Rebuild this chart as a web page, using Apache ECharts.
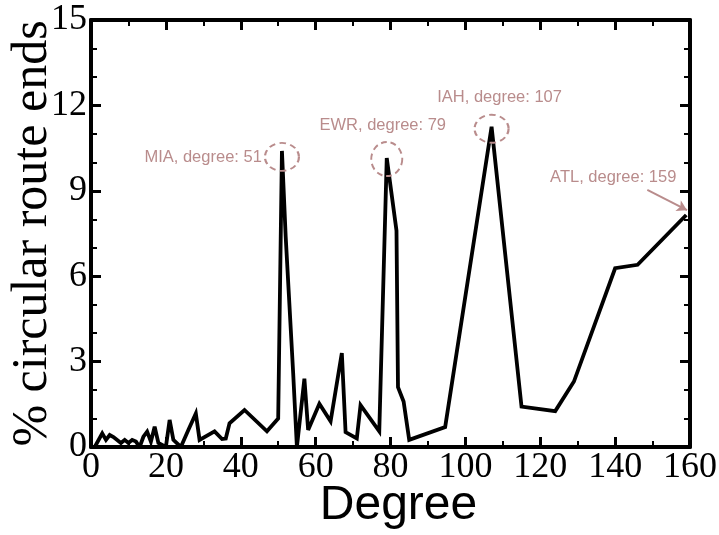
<!DOCTYPE html>
<html>
<head>
<meta charset="utf-8">
<script src="https://cdn.jsdelivr.net/npm/echarts@6/dist/echarts.min.js"></script>
<style>
  html, body { margin: 0; padding: 0; background: #fff; }
  #chart { width: 719px; height: 535px; }
</style>
</head>
<body>
<div id="chart"></div>
<script>
// Share of circular route ends per airport degree
const degrees = [1, 3, 4, 5, 6, 8, 9, 10, 11, 12, 13, 14, 15, 16, 17, 18, 20, 21, 22, 24,
  26, 28, 29, 33, 35, 36, 37, 41, 47, 50, 51, 52, 54, 55, 57, 58, 61, 64, 67, 68,
  71, 72, 77, 79, 81.6, 82, 83.5, 85, 94.6, 107, 115, 124, 129, 140, 146, 159];
const percents = [0.0, 0.48, 0.25, 0.42, 0.35, 0.14, 0.25, 0.14, 0.25, 0.19, 0.0, 0.36, 0.54, 0.19, 0.71, 0.14, 0.0, 0.95, 0.25, 0.0,
  0.6, 1.18, 0.25, 0.55, 0.28, 0.3, 0.83, 1.3, 0.55, 1.0, 10.4, 7.4, 2.6, 0.0, 2.4, 0.6, 1.52, 0.9, 3.3, 0.52,
  0.3, 1.47, 0.55, 10.15, 7.6, 2.1, 1.6, 0.25, 0.7, 11.25, 1.42, 1.26, 2.3, 6.28, 6.4, 8.15];

// Highlighted hubs
const hubNames = ['MIA', 'EWR', 'IAH', 'ATL'];
const hubDegrees = [51, 79, 107, 159];

const xTicks = { min: 0, max: 160, interval: 20 };
const yTicks = { min: 0, max: 15, interval: 3 };

const annoColor = '#b98c8c';
const sansFamily = "'Liberation Sans', Arial, sans-serif";
const serifFamily = "'Liberation Serif', 'Times New Roman', serif";
const annoFont = { fontFamily: sansFamily, fontSize: 16.5, color: annoColor };

function valueAt(deg) {
  return percents[degrees.indexOf(deg)];
}

// Boxed frame: each side is an axis with inward major and minor ticks
function frameAxis(extra, minorSplit) {
  return Object.assign({
    type: 'value',
    axisLine: { show: true, onZero: false, lineStyle: { color: '#000', width: 4 } },
    axisTick: { show: true, inside: true, length: 10, lineStyle: { color: '#000', width: 3 } },
    minorTick: { show: true, splitNumber: minorSplit, length: 6, lineStyle: { color: '#000', width: 2 } },
    splitLine: { show: false },
    minorSplitLine: { show: false }
  }, extra);
}

const serifLabel = {
  fontFamily: serifFamily,
  fontSize: 36,
  color: '#000'
};

// Dashed rings around the three peak hubs
const rings = hubNames.slice(0, 3).map((name, i) => {
  const d = hubDegrees[i];
  const lbl = {
    show: true,
    formatter: name + ', degree: ' + d,
    ...annoFont
  };
  if (name === 'MIA') { lbl.position = 'left'; lbl.distance = 2; lbl.offset = [0, 1]; }
  if (name === 'EWR') { lbl.position = 'top'; lbl.distance = 7; lbl.offset = [-4, 0]; }
  if (name === 'IAH') { lbl.position = 'top'; lbl.distance = 8; lbl.offset = [8, 0]; }
  const size = name === 'EWR' ? [31, 34] : [34, 28];
  const offs = name === 'MIA' ? [0, 6] : (name === 'EWR' ? [0, 1] : [0, 2]);
  return {
    coord: [d, valueAt(d)],
    symbol: 'circle',
    symbolSize: size,
    symbolOffset: offs,
    itemStyle: { color: 'rgba(0,0,0,0)', borderColor: annoColor, borderWidth: 2, borderType: [6, 4] },
    label: lbl
  };
});

const atlDeg = hubDegrees[3];
const atlVal = valueAt(atlDeg);

const chart = echarts.init(document.getElementById('chart'), null, { renderer: 'canvas' });
chart.setOption({
  backgroundColor: '#fff',
  animation: false,
  grid: { left: 91, right: 29, top: 20, bottom: 88, containLabel: false, outerBoundsMode: 'none' },
  xAxis: [
    frameAxis({
      position: 'bottom',
      min: xTicks.min, max: xTicks.max, interval: xTicks.interval,
      axisLabel: { ...serifLabel, margin: 3 },
      name: 'Degree',
      nameLocation: 'middle',
      nameGap: 35,
      nameMoveOverlap: false,
      nameTextStyle: { fontFamily: sansFamily, fontSize: 48, color: '#000', padding: [0, 0, 0, 16] }
    }, 2),
    frameAxis({
      position: 'top',
      min: xTicks.min, max: xTicks.max, interval: xTicks.interval,
      axisLabel: { show: false }
    }, 2)
  ],
  yAxis: [
    frameAxis({
      position: 'left',
      min: yTicks.min, max: yTicks.max, interval: yTicks.interval,
      axisLabel: { ...serifLabel, margin: 4 },
      name: '% circular route ends',
      nameLocation: 'middle',
      nameGap: 33,
      nameMoveOverlap: false,
      nameTextStyle: { fontFamily: serifFamily, fontSize: 50, color: '#000' }
    }, 3),
    frameAxis({
      position: 'right',
      min: yTicks.min, max: yTicks.max, interval: yTicks.interval,
      axisLabel: { show: false }
    }, 3)
  ],
  series: [{
    type: 'line',
    xAxisIndex: 0,
    yAxisIndex: 0,
    data: degrees.map((d, i) => [d, percents[i]]),
    symbol: 'none',
    lineStyle: { color: '#000', width: 3.8, join: 'miter', miterLimit: 4 },
    markPoint: {
      silent: true,
      data: rings.concat([{
        coord: [atlDeg, atlVal],
        symbol: 'circle',
        symbolSize: 1,
        itemStyle: { color: 'rgba(0,0,0,0)' },
        label: {
          show: true,
          position: 'inside',
          offset: [-73, -38],
          formatter: hubNames[3] + ', degree: ' + atlDeg,
          ...annoFont
        }
      }])
    },
    markLine: {
      silent: true,
      symbol: ['none', 'arrow'],
      symbolSize: [9, 10],
      label: { show: false },
      lineStyle: { color: annoColor, width: 2, type: 'solid' },
      data: [[
        { coord: [atlDeg - 10.4, atlVal + 0.88] },
        { coord: [atlDeg + 0.2, atlVal + 0.17] }
      ]]
    }
  }]
});
</script>
</body>
</html>
